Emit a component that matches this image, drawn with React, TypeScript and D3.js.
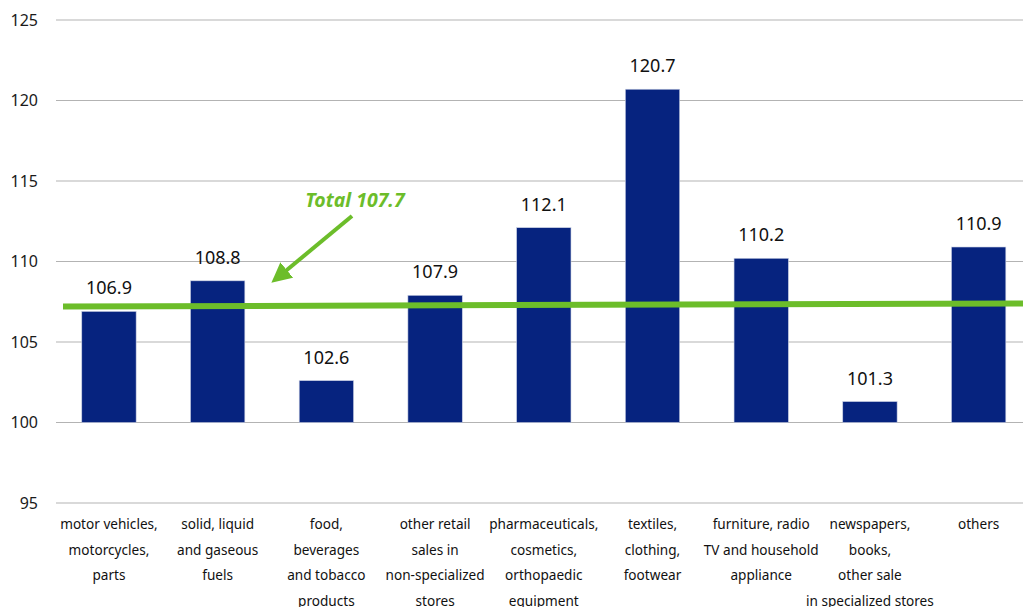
import React from "react";
import * as d3 from "d3";

const categories: string[][] = [
  ["motor vehicles,", "motorcycles,", "parts"],
  ["solid, liquid", "and gaseous", "fuels"],
  ["food,", "beverages", "and tobacco", "products"],
  ["other retail", "sales in", "non-specialized", "stores"],
  ["pharmaceuticals,", "cosmetics,", "orthopaedic", "equipment"],
  ["textiles,", "clothing,", "footwear"],
  ["furniture, radio", "TV and household", "appliance"],
  ["newspapers,", "books,", "other sale", "in specialized stores"],
  ["others"],
];
const values: number[] = [106.9, 108.8, 102.6, 107.9, 112.1, 120.7, 110.2, 101.3, 110.9];
const yTicks: number[] = [95, 100, 105, 110, 115, 120, 125];
const totalValue = 107.7;
const baseValue = 100;

const W = 1023;
const H = 607;
const FONT = "'Noto Sans', 'Open Sans', sans-serif";
const BAR = "#06237f";
const GREEN = "#6cbd2a";

export default function App() {
  const ids = categories.map((_, i) => String(i));
  const x = d3.scaleBand<string>().domain(ids).range([54.6, 1033]).paddingInner(0.5).paddingOuter(0.25);
  const y = d3.scaleLinear().domain([95, 125]).range([503, 20]);
  const gridX0 = 56;

  return (
    <svg width={W} height={H} style={{ position: "absolute", left: 0, top: 0, background: "#fff" }} fontFamily={FONT}>
      {yTicks.map((t) => (
        <g key={t}>
          <line x1={gridX0} x2={W} y1={y(t)} y2={y(t)} stroke="#b3b3b3" strokeWidth={1} />
          <text x={38} y={y(t)} dy="0.35em" textAnchor="end" fontSize={16} fill="#1a1a1a">{t}</text>
        </g>
      ))}
      {values.map((v, i) => {
        const bx = x(String(i))!;
        const bw = x.bandwidth();
        return (
          <g key={i}>
            <rect x={bx} y={y(v)} width={bw} height={y(baseValue) - y(v)} fill={BAR} stroke="#c9cfe3" strokeWidth={0.6} />
            <text x={bx + bw / 2} y={y(v) - 17} textAnchor="middle" fontSize={18} fill="#111">{v.toFixed(1)}</text>
          </g>
        );
      })}
      {categories.map((lines, i) => {
        const cx = x(String(i))! + x.bandwidth() / 2;
        return (
          <text key={i} x={cx} y={529} textAnchor="middle" fontSize={13.6} fill="#111">
            {lines.map((l, j) => (
              <tspan key={j} x={cx} dy={j === 0 ? 0 : 25.5}>{l}</tspan>
            ))}
          </text>
        );
      })}
      <line x1={63} y1={306.5} x2={W} y2={303.5} stroke={GREEN} strokeWidth={6} />
      <defs>
        <marker id="ah" viewBox="0 0 10 10" refX={7} refY={5} markerWidth={5} markerHeight={5} orient="auto" markerUnits="strokeWidth">
          <path d="M0,0 L10,5 L0,10 z" fill={GREEN} />
        </marker>
      </defs>
      <line x1={352} y1={216} x2={276} y2={279} stroke={GREEN} strokeWidth={4} markerEnd="url(#ah)" />
      <text x={355} y={207} textAnchor="middle" fontSize={19.5} fontWeight="bold" fontStyle="italic" fill={GREEN}>
        Total {totalValue}
      </text>
    </svg>
  );
}
